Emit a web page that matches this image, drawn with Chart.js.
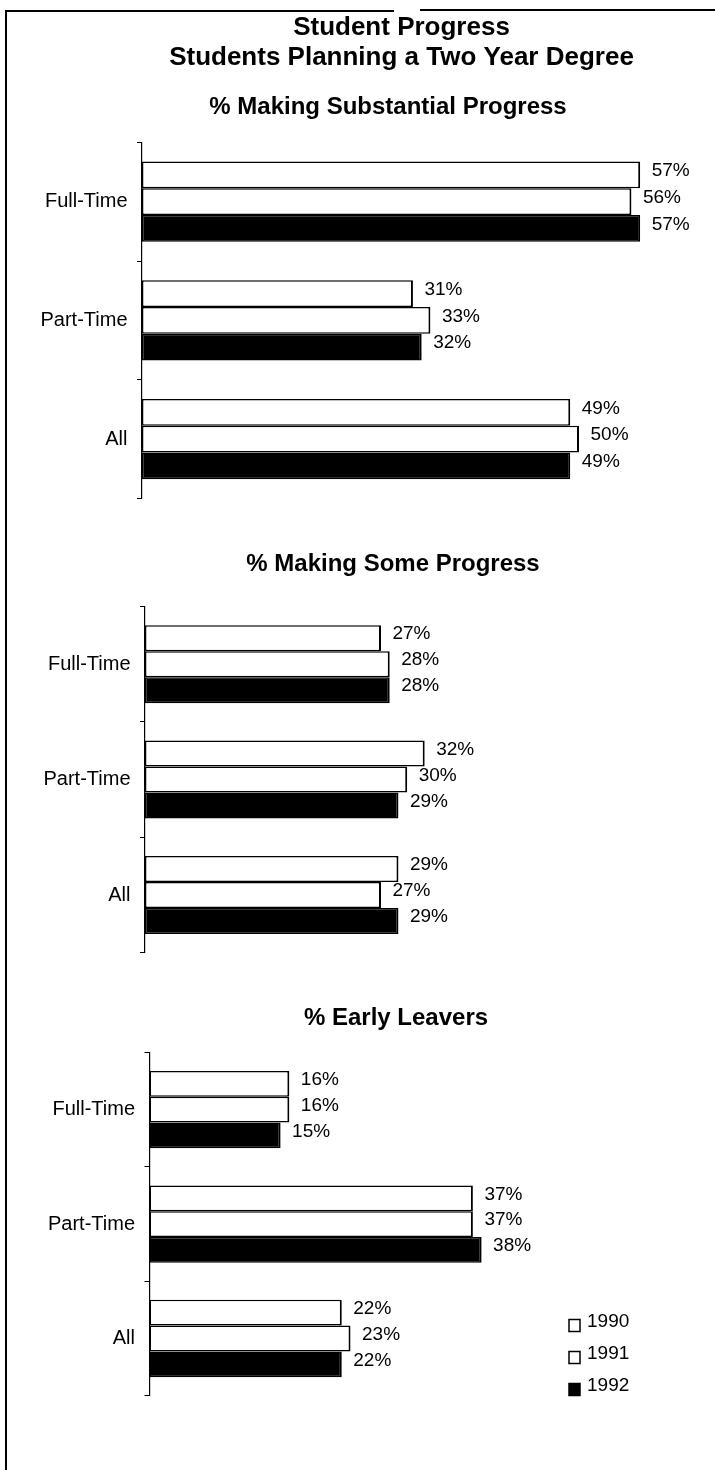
<!DOCTYPE html>
<html>
<head>
<meta charset="utf-8">
<title>Student Progress</title>
<script src="https://cdn.jsdelivr.net/npm/chart.js@4.4.1/dist/chart.umd.min.js"></script>
<style>
  html, body { margin: 0; padding: 0; background: #fff; }
  #page { position: relative; width: 715px; height: 1470px; overflow: hidden; background: #fff; }
  canvas { position: absolute; left: 0; }
  .rule { position: absolute; background: #000; }
</style>
</head>
<body>
<div id="page">
  <!-- scanned frame: left edge and a broken top edge -->
  <div class="rule" style="left:5px; top:10px; width:2px; height:1460px;"></div>
  <div class="rule" style="left:5px; top:10px; width:389px; height:2px;"></div>
  <div class="rule" style="left:420px; top:9px; width:295px; height:2px;"></div>
  <canvas id="chart1"></canvas>
  <canvas id="chart2"></canvas>
  <canvas id="chart3"></canvas>
</div>
<script>
// --- data ---
const categories = ['Full-Time', 'Part-Time', 'All'];
const years = ['1990', '1991', '1992'];

const substantial1990 = [57, 31, 49];
const substantial1991 = [56, 33, 50];
const substantial1992 = [57, 32, 49];

const some1990 = [27, 32, 29];
const some1991 = [28, 30, 27];
const some1992 = [28, 29, 29];

const leavers1990 = [16, 37, 22];
const leavers1991 = [16, 37, 23];
const leavers1992 = [15, 38, 22];

const mainTitle = ['Student Progress', 'Students Planning a Two Year Degree'];
const panelTitles = ['% Making Substantial Progress', '% Making Some Progress', '% Early Leavers'];

const barFills = ['#ffffff', '#ffffff', '#000000'];

const FONT = "'Liberation Sans', Arial, Helvetica, sans-serif";
const PX_PER_PCT = 8.74;   // same horizontal scale in all three panels
const MAIN_TITLE_X = 401.5;

Chart.defaults.font.family = FONT;
Chart.defaults.color = '#000';

// percentage written just past the end of every bar
const valueLabels = {
  id: 'valueLabels',
  afterDatasetsDraw(chart) {
    const ctx = chart.ctx;
    ctx.save();
    ctx.font = '19px ' + FONT;
    ctx.fillStyle = '#000';
    ctx.textAlign = 'left';
    ctx.textBaseline = 'middle';
    chart.data.datasets.forEach((ds, i) => {
      chart.getDatasetMeta(i).data.forEach((bar, j) => {
        ctx.fillText(ds.data[j] + '%', bar.x + 11.5, bar.y - 4);
      });
    });
    ctx.restore();
  }
};

// small column legend at the lower right of the last panel
const sideLegend = {
  id: 'sideLegend',
  afterDraw(chart) {
    const ctx = chart.ctx;
    const x = chart.chartArea.left + 419.5;
    ctx.save();
    ctx.font = '19px ' + FONT;
    ctx.textAlign = 'left';
    ctx.textBaseline = 'middle';
    chart.data.datasets.forEach((ds, i) => {
      const y = chart.chartArea.top + 269 + i * 32;
      ctx.fillStyle = ds.backgroundColor;
      ctx.fillRect(x, y - 2, 11, 12);
      ctx.lineWidth = 1.5;
      ctx.strokeStyle = '#000';
      ctx.strokeRect(x, y - 2, 11, 12);
      ctx.fillStyle = '#000';
      ctx.fillText(ds.label, x + 18, y);
    });
    ctx.restore();
  }
};

const panels = [
  { id: 'chart1', top: 0, axisX: 142, titleX: 388, titleY: 107.5, plotTop: 142.3, plotBottom: 498.5,
    title: panelTitles[0], series: [substantial1990, substantial1991, substantial1992], main: true },
  { id: 'chart2', top: 530, axisX: 145, titleX: 393, titleY: 564, plotTop: 606.5, plotBottom: 952.7,
    title: panelTitles[1], series: [some1990, some1991, some1992] },
  { id: 'chart3', top: 985, axisX: 149.5, titleX: 396, titleY: 1018, plotTop: 1052.5, plotBottom: 1395.7,
    title: panelTitles[2], series: [leavers1990, leavers1991, leavers1992], legend: true }
];

panels.forEach(p => {
  const canvas = document.getElementById(p.id);
  // canvas is as wide as twice the panel-title centre, so a full-width title sits where the scan has it;
  // anything past 715px is cut off by the page
  const w = Math.round(2 * p.titleX);
  const h = Math.ceil(p.plotBottom - p.top + 24);
  canvas.width = w;
  canvas.height = h;
  canvas.style.top = p.top + 'px';

  const plotRight = p.main ? 2 * MAIN_TITLE_X - p.axisX : p.axisX + PX_PER_PCT * 60;
  const xMax = (plotRight - p.axisX) / PX_PER_PCT;
  const rightGap = w - plotRight;
  const padBottom = h - (p.plotBottom - p.top);

  const subFont = { size: 24, weight: 'bold', lineHeight: 1.2 };
  const subLH = 24 * 1.2;
  let titleOpt, subtitleOpt;
  if (p.main) {
    const mainLH = 26 * 1.17;
    const mainPadTop = 27.5 - p.top - mainLH / 2;
    const mainBottom = mainPadTop + 2 * mainLH;
    const subPadTop = p.titleY - p.top - subLH / 2 - mainBottom;
    const subPadBottom = p.plotTop - p.top - mainBottom - subPadTop - subLH;
    titleOpt = { display: true, text: mainTitle, fullSize: false, color: '#000',
      font: { size: 26, weight: 'bold', lineHeight: 1.17 }, padding: { top: mainPadTop, bottom: 0 } };
    subtitleOpt = { display: true, text: p.title, fullSize: true, color: '#000',
      font: subFont, padding: { top: subPadTop, bottom: subPadBottom } };
  } else {
    const padTop = p.titleY - p.top - subLH / 2;
    titleOpt = { display: true, text: p.title, fullSize: true, color: '#000',
      font: subFont, padding: { top: padTop, bottom: p.plotTop - p.top - padTop - subLH } };
    subtitleOpt = { display: false };
  }

  new Chart(canvas, {
    type: 'bar',
    data: {
      labels: categories,
      datasets: years.map((yr, i) => ({
        label: yr,
        data: p.series[i],
        backgroundColor: barFills[i],
        borderColor: '#000',
        borderWidth: { top: 1.5, right: 2, bottom: 1.5, left: 1.5 },
        borderSkipped: false,
        categoryPercentage: 0.676,
        barPercentage: 1
      }))
    },
    options: {
      indexAxis: 'y',
      responsive: false,
      animation: false,
      events: [],
      layout: { padding: { left: 0, right: 0, top: 0, bottom: padBottom } },
      scales: {
        x: { display: false, min: 0, max: xMax },
        y: {
          afterFit: (scale) => { scale.width = p.axisX; },
          grid: { offset: true, drawOnChartArea: false, drawTicks: true, tickLength: 5, color: '#000', lineWidth: 1 },
          border: { display: true, color: '#000', width: 1.2, dash: [4, 3] },
          ticks: { font: { size: 20 }, color: '#000', padding: 9.5 }
        },
        // empty right-hand axis: only keeps the room to the right of the bars for the % labels
        yRight: {
          type: 'category',
          position: 'right',
          afterFit: (scale) => { scale.width = rightGap; },
          grid: { display: false, drawTicks: false },
          border: { display: false },
          ticks: { display: false }
        }
      },
      plugins: {
        legend: { display: false },
        tooltip: { enabled: false },
        title: titleOpt,
        subtitle: subtitleOpt
      }
    },
    plugins: p.legend ? [valueLabels, sideLegend] : [valueLabels]
  });
});
</script>
</body>
</html>
